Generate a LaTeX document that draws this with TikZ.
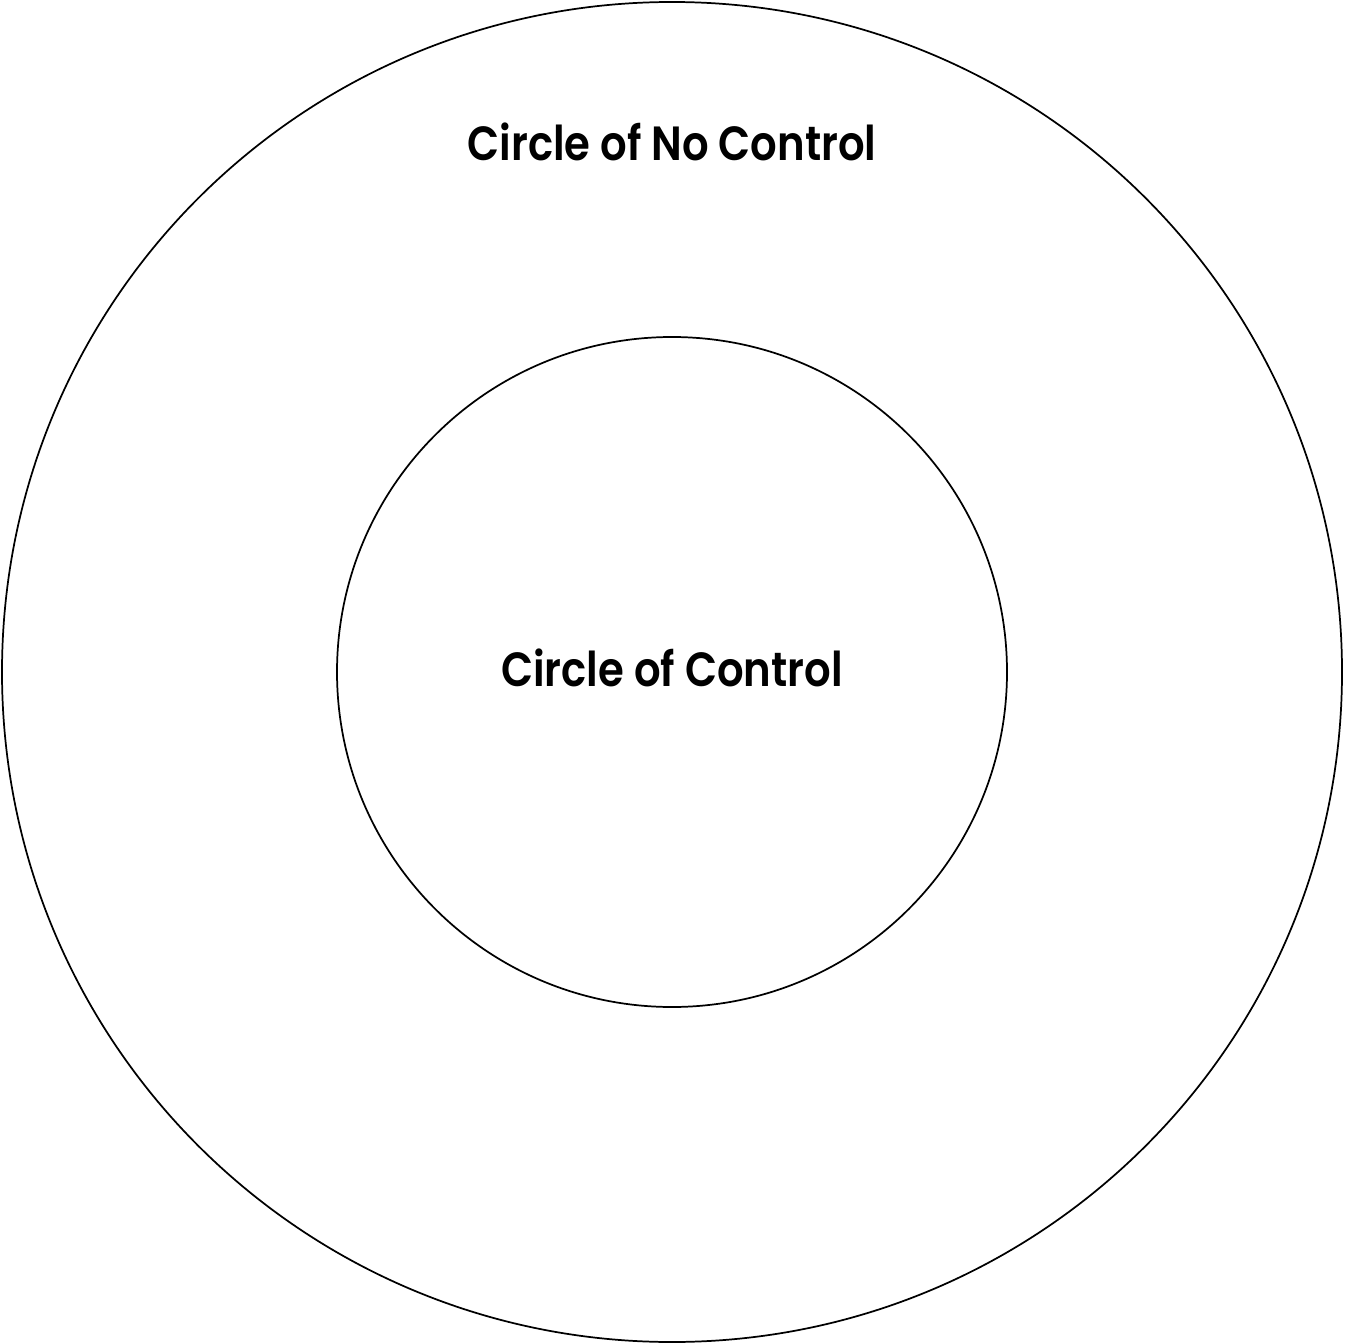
\documentclass[tikz,border=0pt]{standalone}
\usepackage{fontspec}
\setmainfont{Poppins}[UprightFont=* SemiBold]
\begin{document}
\begin{tikzpicture}[x=0.75pt,y=-0.75pt,
  ring/.style={draw=black,line width=1.3pt,circle,inner sep=0pt},
  lbl/.style={font=\fontsize{36}{42}\selectfont,text=black,xscale=0.87}]
\useasboundingbox (0,0) rectangle (1345,1344);
\node[ring,minimum size=1340*0.75pt] (outer) at (672,672) {};
\node[ring,minimum size=670*0.75pt] (inner) at (672,672) {};
\node[lbl] (nocontrol) at (672,142) {Circle of No Control};
\node[lbl] (control) at (672,668) {Circle of Control};
\end{tikzpicture}
\end{document}
